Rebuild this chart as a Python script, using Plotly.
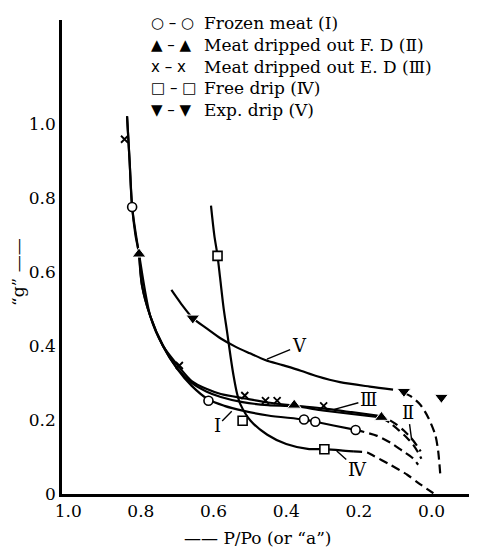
import plotly.graph_objects as go

# ---------------- data ----------------
# measured points  (a = P/Po, g = "g")
frozen_a = [0.824, 0.614, 0.351, 0.320, 0.209]
frozen_g = [0.775, 0.252, 0.201, 0.195, 0.173]
fd_a = [0.805, 0.378, 0.138]
fd_g = [0.648, 0.240, 0.207]
ed_a = [0.845, 0.694, 0.514, 0.457, 0.425, 0.297]
ed_g = [0.958, 0.347, 0.266, 0.252, 0.252, 0.238]
free_a = [0.589, 0.520, 0.295]
free_g = [0.643, 0.198, 0.121]
exp_a = [0.657, 0.076, -0.027]
exp_g = [0.475, 0.277, 0.261]

# hand-drawn curves (solid part, then dashed extrapolation)
curve1_a = [0.838, 0.831, 0.824, 0.815, 0.805, 0.797, 0.774, 0.739, 0.700, 0.660, 0.614, 0.570, 0.520, 0.450, 0.351, 0.320, 0.270, 0.209]
curve1_g = [1.020, 0.900, 0.775, 0.700, 0.648, 0.564, 0.480, 0.400, 0.338, 0.292, 0.255, 0.238, 0.225, 0.212, 0.201, 0.195, 0.185, 0.173]
curve1d_a = [0.209, 0.188, 0.150, 0.114, 0.081, 0.053, 0.037]
curve1d_g = [0.173, 0.168, 0.157, 0.139, 0.117, 0.098, 0.079]

curve2_a = [0.805, 0.797, 0.774, 0.739, 0.700, 0.660, 0.620, 0.580, 0.520, 0.450, 0.378, 0.300, 0.220, 0.138]
curve2_g = [0.648, 0.564, 0.480, 0.400, 0.340, 0.300, 0.277, 0.262, 0.248, 0.240, 0.237, 0.226, 0.216, 0.207]
curve2d_a = [0.138, 0.115, 0.090, 0.068, 0.050, 0.037, 0.028]
curve2d_g = [0.207, 0.192, 0.172, 0.152, 0.132, 0.112, 0.095]

curve3_a = [0.838, 0.831, 0.824, 0.805, 0.774, 0.739, 0.694, 0.660, 0.620, 0.580, 0.514, 0.450, 0.380, 0.297, 0.220, 0.150]
curve3_g = [1.020, 0.900, 0.775, 0.648, 0.480, 0.400, 0.342, 0.305, 0.284, 0.270, 0.258, 0.247, 0.239, 0.231, 0.221, 0.212]
curve3d_a = [0.150, 0.128, 0.100, 0.075, 0.055, 0.040, 0.030]
curve3d_g = [0.212, 0.206, 0.190, 0.170, 0.150, 0.130, 0.115]

curve4_a = [0.607, 0.598, 0.589, 0.582, 0.572, 0.563, 0.553, 0.545, 0.535, 0.526, 0.498, 0.452, 0.400, 0.341, 0.295, 0.250, 0.216]
curve4_g = [0.779, 0.700, 0.643, 0.584, 0.500, 0.440, 0.370, 0.320, 0.270, 0.242, 0.198, 0.160, 0.135, 0.122, 0.121, 0.118, 0.115]
curve4d_a = [0.216, 0.177, 0.161, 0.114, 0.067, 0.031, -0.005]
curve4d_g = [0.115, 0.112, 0.104, 0.079, 0.052, 0.026, 0.002]

curve5_a = [0.716, 0.690, 0.657, 0.620, 0.580, 0.540, 0.500, 0.458, 0.410, 0.360, 0.315, 0.252, 0.170, 0.106]
curve5_g = [0.551, 0.515, 0.475, 0.448, 0.420, 0.398, 0.380, 0.362, 0.348, 0.333, 0.318, 0.302, 0.290, 0.282]
curve5d_a = [0.076, 0.059, 0.031, 0.009, -0.010, -0.018, -0.024]
curve5d_g = [0.272, 0.265, 0.241, 0.206, 0.160, 0.117, 0.052]

x_ticks = [1.0, 0.8, 0.6, 0.4, 0.2, 0.0]
x_ticktext = ["1.0", "0.8", "0.6", "0.4", "0.2", "0.0"]
y_ticks = [0, 0.2, 0.4, 0.6, 0.8, 1.0]
y_ticktext = ["0", "0.2", "0.4", "0.6", "0.8", "1.0"]

legend_symbols = ["○ – ○", "▲ – ▲", "x – x", "□ – □", "▼ – ▼"]
legend_labels = ["Frozen meat (Ⅰ)", "Meat dripped out F. D (Ⅱ)", "Meat dripped out E. D (Ⅲ)",
                 "Free drip (Ⅳ)", "Exp. drip (Ⅴ)"]

# ---------------- figure ----------------
SERIF = "DejaVu Serif"
fig = go.Figure()

solid = dict(color="black", width=2.2)
dashed = dict(color="black", width=2.2, dash="9px,5px")

for xa, ya in [(curve1_a, curve1_g), (curve2_a, curve2_g), (curve3_a, curve3_g),
               (curve4_a, curve4_g), (curve5_a, curve5_g)]:
    fig.add_trace(go.Scatter(x=xa, y=ya, mode="lines", line=dict(solid, shape="spline", smoothing=0.8),
                             showlegend=False, hoverinfo="skip"))
for xa, ya in [(curve1d_a, curve1d_g), (curve2d_a, curve2d_g), (curve3d_a, curve3d_g),
               (curve4d_a, curve4d_g), (curve5d_a, curve5d_g)]:
    fig.add_trace(go.Scatter(x=xa, y=ya, mode="lines", line=dict(dashed, shape="spline", smoothing=0.8),
                             showlegend=False, hoverinfo="skip"))

fig.add_trace(go.Scatter(x=frozen_a, y=frozen_g, mode="markers", name="Frozen meat",
                         marker=dict(symbol="circle", size=9, color="white", line=dict(color="black", width=1.6))))
fig.add_trace(go.Scatter(x=fd_a, y=fd_g, mode="markers", name="F.D",
                         marker=dict(symbol="triangle-up", size=12, color="black", line=dict(color="white", width=1))))
fig.add_trace(go.Scatter(x=ed_a, y=ed_g, mode="markers", name="E.D",
                         marker=dict(symbol="x-thin", size=7, color="black", line=dict(color="black", width=1.8))))
fig.add_trace(go.Scatter(x=free_a, y=free_g, mode="markers", name="Free drip",
                         marker=dict(symbol="square", size=9, color="white", line=dict(color="black", width=1.6))))
fig.add_trace(go.Scatter(x=exp_a, y=exp_g, mode="markers", name="Exp. drip",
                         marker=dict(symbol="triangle-down", size=12, color="black", line=dict(color="white", width=1))))

# page has an 8px body margin: work in reference-pixel coordinates and shift
OFF = 8
W, H = 477 - OFF, 549 - OFF
L, T, PW, PH = 62 - OFF, 20 - OFF, 415, 474


def px(x):
    return (x - OFF - L) / PW


def py(y):
    return (T + PH - (y - OFF)) / PH


annotations = []
legend_y = [23, 45, 67, 88, 110]
for sym, lab, yy in zip(legend_symbols, legend_labels, legend_y):
    annotations.append(dict(xref="paper", yref="paper", x=px(149), y=py(yy), xanchor="left", yanchor="middle",
                            text=sym, showarrow=False, font=dict(family="DejaVu Sans", size=15, color="black")))
    annotations.append(dict(xref="paper", yref="paper", x=px(202), y=py(yy), xanchor="left", yanchor="middle",
                            text=lab, showarrow=False, font=dict(family=SERIF, size=17, color="black")))

# curve labels with leaders
lab_font = dict(family=SERIF, size=18, color="black")
for txt, xa, ya, ax, ay in [("Ⅴ", 0.458, 0.362, 34, -14),
                            ("Ⅲ", 0.273, 0.227, 36, -10),
                            ("Ⅱ", 0.054, 0.140, -4, -30),
                            ("Ⅰ", 0.546, 0.227, -16, 16),
                            ("Ⅳ", 0.265, 0.120, 22, 20)]:
    annotations.append(dict(x=xa, y=ya, xref="x", yref="y", text=txt, showarrow=True, arrowhead=0,
                            arrowwidth=1.4, arrowcolor="black", ax=ax, ay=ay, font=lab_font, standoff=2))

annotations.append(dict(xref="paper", yref="paper", x=px(258), y=py(538), xanchor="center", yanchor="middle",
                        text="—— P/Po (or “a”)", showarrow=False, font=dict(family=SERIF, size=17, color="black")))
annotations.append(dict(xref="paper", yref="paper", x=px(18), y=py(272), xanchor="center", yanchor="middle",
                        text="“g” ——", textangle=-90, showarrow=False, font=dict(family=SERIF, size=17, color="black")))

fig.update_layout(
    width=W, height=H,
    margin=dict(l=L, r=W - L - PW, t=T, b=H - T - PH),
    paper_bgcolor="white", plot_bgcolor="white",
    showlegend=False,
    annotations=annotations,
    font=dict(family=SERIF, size=16, color="black"),
)
fig.update_xaxes(range=[1.017, -0.125], tickvals=x_ticks, ticktext=x_ticktext, showgrid=False, zeroline=False,
                 showline=True, linecolor="black", linewidth=2.5, ticks="", tickfont=dict(family=SERIF, size=17))
fig.update_yaxes(range=[0, 1.28], tickvals=y_ticks, ticktext=y_ticktext, showgrid=False, zeroline=False,
                 showline=True, linecolor="black", linewidth=2.5, ticks="", tickfont=dict(family=SERIF, size=17))

fig.write_html("out.html")
